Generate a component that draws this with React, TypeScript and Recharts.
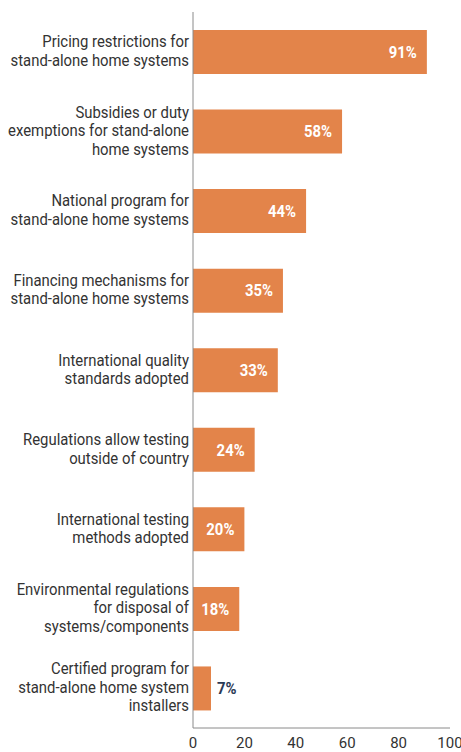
import React from "react";
import { BarChart, Bar, XAxis, YAxis, LabelList } from "recharts";

const categories = [
  "Pricing restrictions for\nstand-alone home systems",
  "Subsidies or duty\nexemptions for stand-alone\nhome systems",
  "National program for\nstand-alone home systems",
  "Financing mechanisms for\nstand-alone home systems",
  "International quality\nstandards adopted",
  "Regulations allow testing\noutside of country",
  "International testing\nmethods adopted",
  "Environmental regulations\nfor disposal of\nsystems/components",
  "Certified program for\nstand-alone home system\ninstallers",
];

const shares = [91, 58, 44, 35, 33, 24, 20, 18, 7];

const xTicks = [0, 20, 40, 60, 80, 100];

const data = categories.map((name, i) => ({ name, value: shares[i] }));

const FONT = "Roboto, 'Liberation Sans', sans-serif";
const ORANGE = "#E3844A";
const SQUEEZE = 0.93;

// narrow text: the source uses a condensed face, fake it with a horizontal squeeze
function Narrow({ x, y, anchor, children, ...rest }: any) {
  return (
    <g transform={`translate(${x},${y}) scale(${SQUEEZE},1)`}>
      <text x={0} y={0} textAnchor={anchor} fontFamily={FONT} fontSize={16} {...rest}>
        {children}
      </text>
    </g>
  );
}

function CategoryTick(props: any) {
  const { x, y, payload } = props;
  const lines: string[] = String(payload.value).split("\n");
  const lh = 18.5;
  const start = -((lines.length - 1) * lh) / 2 - 1;
  return (
    <g>
      {lines.map((l, i) => (
        <Narrow key={i} x={x + 4} y={y + start + i * lh} anchor="end" dy="0.36em" fill="#333">
          {l}
        </Narrow>
      ))}
    </g>
  );
}

function NumberTick(props: any) {
  const { x, y, payload } = props;
  return (
    <text x={x} y={y + 1} textAnchor="middle" dy="0.71em" fontFamily={FONT} fontSize={15} fill="#333">
      {payload.value}
    </text>
  );
}

function ValueLabel(props: any) {
  const { x, y, width, height, value } = props;
  const inside = value > 10;
  return (
    <Narrow
      x={inside ? x + width - 10 : x + width + 6}
      y={y + height / 2}
      anchor={inside ? "end" : "start"}
      dy="0.36em"
      fontWeight="bold"
      fill={inside ? "#fff" : "#2b3a55"}
    >
      {value}%
    </Narrow>
  );
}

export default function App() {
  return (
    <div style={{ position: "absolute", left: 0, top: 0, background: "#fff" }}>
      <BarChart
        width={461}
        height={752}
        data={data}
        layout="vertical"
        margin={{ top: 12, right: 11, bottom: 0, left: 0 }}
      >
        <XAxis
          type="number"
          domain={[0, 100]}
          ticks={xTicks}
          tickLine={false}
          axisLine={{ stroke: "#8a8a8a" }}
          height={24}
          interval={0}
          tick={<NumberTick />}
        />
        <YAxis
          type="category"
          dataKey="name"
          width={193}
          tickLine={false}
          axisLine={{ stroke: "#8a8a8a" }}
          interval={0}
          tick={<CategoryTick />}
        />
        <Bar dataKey="value" fill={ORANGE} barSize={44} isAnimationActive={false}>
          <LabelList dataKey="value" content={<ValueLabel />} />
        </Bar>
      </BarChart>
    </div>
  );
}
